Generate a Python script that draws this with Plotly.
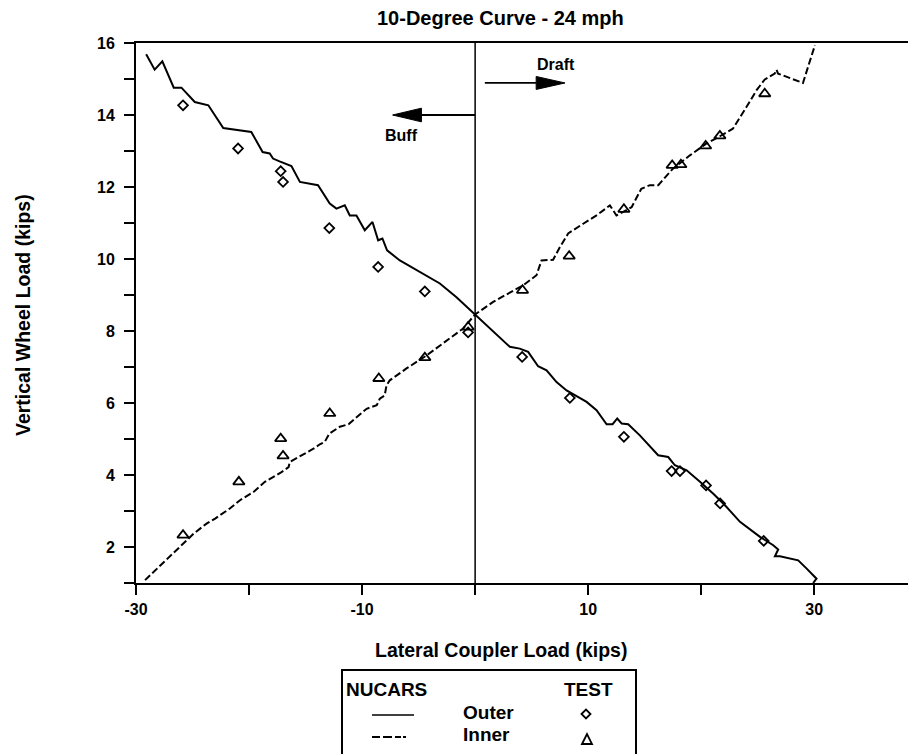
import plotly.graph_objects as go

# ---------------- data ----------------
outer_nucars_x = [-29.1, -28.35, -27.67, -26.66, -25.98, -24.8, -23.6, -22.28, -19.8, -18.8,
                  -18.17, -17.88, -17.3, -16.25, -15.5, -13.9, -12.86, -12.27, -11.53, -11.09,
                  -10.5, -9.76, -9.08, -8.58, -8.2, -7.79, -6.66, -4.89, -3.12, -1.65,
                  0.0, 1.6, 3.07, 3.95, 4.69, 5.57, 6.32, 7.2, 8.09, 9.86,
                  10.74, 11.63, 12.16, 12.57, 12.96, 13.54, 14.57, 16.19, 17.08, 17.67,
                  18.71, 19.89, 21.07, 22.1, 23.43, 25.2, 26.37, 26.81, 26.52, 26.96,
                  28.58, 29.33, 30.2, 29.9]
outer_nucars_y = [15.69, 15.26, 15.49, 14.76, 14.76, 14.36, 14.27, 13.64, 13.53, 12.97,
                  12.93, 12.79, 12.71, 12.58, 12.14, 12.05, 11.54, 11.40, 11.49, 11.21,
                  11.21, 10.80, 11.03, 10.52, 10.57, 10.24, 9.96, 9.64, 9.32, 8.94,
                  8.46, 7.97, 7.56, 7.51, 7.42, 7.02, 6.91, 6.58, 6.35, 6.03,
                  5.80, 5.41, 5.41, 5.57, 5.43, 5.41, 5.10, 4.55, 4.50, 4.27,
                  4.13, 3.81, 3.48, 3.16, 2.70, 2.28, 2.05, 1.93, 1.74, 1.74,
                  1.63, 1.40, 1.12, 1.0]

inner_nucars_x = [-29.2, -28.3, -27.3, -26.1, -24.9, -23.76, -23.0, -21.7, -20.8, -19.6,
                  -18.6, -17.13, -16.5, -16.4, -14.3, -13.7, -13.3, -12.9, -11.97, -11.2,
                  -10.5, -9.6, -8.7, -8.43, -8.0, -7.84, -7.55, -6.07, -4.3, -2.5,
                  -1.06, 0.0, 1.6, 4.25, 5.43, 5.87, 6.9, 7.5, 8.23, 9.56,
                  10.74, 11.92, 12.5, 13.1, 13.84, 14.7, 15.46, 16.2, 17.5, 19.0,
                  20.47, 21.65, 22.8, 24.0, 24.9, 25.6, 26.5, 26.66, 26.8, 29.0,
                  29.6, 30.06]
inner_nucars_y = [1.08, 1.35, 1.63, 2.0, 2.37, 2.65, 2.79, 3.07, 3.30, 3.53,
                  3.81, 4.08, 4.22, 4.36, 4.73, 4.86, 4.92, 5.15, 5.34, 5.41,
                  5.61, 5.84, 5.94, 6.12, 6.21, 6.49, 6.63, 6.96, 7.32, 7.74,
                  8.07, 8.46, 8.81, 9.27, 9.55, 9.96, 9.98, 10.33, 10.71, 10.98,
                  11.21, 11.49, 11.21, 11.31, 11.44, 11.95, 12.05, 12.05, 12.51, 12.88,
                  13.21, 13.41, 13.62, 14.22, 14.69, 14.98, 15.15, 15.26, 15.15, 14.89,
                  15.47, 15.94]

test_outer_x = [-25.84, -20.97, -17.2, -16.99, -12.9, -8.58, -4.45, -0.62,
                4.16, 8.38, 13.16, 17.38, 18.12, 20.43, 21.67, 25.53]
test_outer_y = [14.27, 13.07, 12.44, 12.14, 10.86, 9.78, 9.10, 7.96,
                7.28, 6.14, 5.06, 4.11, 4.11, 3.71, 3.21, 2.17]

test_inner_x = [-25.84, -20.9, -17.2, -16.99, -12.86, -8.52, -4.45, -0.62,
                4.19, 8.32, 13.16, 17.43, 18.2, 20.39, 21.65, 25.62]
test_inner_y = [2.33, 3.81, 5.01, 4.53, 5.71, 6.68, 7.26, 8.11,
                9.13, 10.08, 11.38, 12.6, 12.62, 13.14, 13.42, 14.59]

title_text = "10-Degree Curve - 24 mph"
x_title = "Lateral Coupler Load (kips)"
y_title = "Vertical Wheel Load (kips)"
x_tickvals = [-30, -10, 10, 30]
x_ticktext = ["-30", "-10", "10", "30"]

# ---------------- layout helpers ----------------
# The page body has an 8px margin, so the figure is offset by 8px on screen.
OFF = 8
SCREEN_W, SCREEN_H = 916, 754
W, H = SCREEN_W - OFF, SCREEN_H - OFF
FONT = "Liberation Sans, Arial, sans-serif"
DASH = "7px,3px"


def px(x):
    """screen pixel x -> paper coordinate"""
    return (x - OFF) / W


def py(y):
    """screen pixel y -> paper coordinate"""
    return 1 - (y - OFF) / H


fig = go.Figure()

fig.add_trace(go.Scatter(x=outer_nucars_x, y=outer_nucars_y, mode="lines",
                         line=dict(color="black", width=2), hoverinfo="skip"))
fig.add_trace(go.Scatter(x=inner_nucars_x, y=inner_nucars_y, mode="lines",
                         line=dict(color="black", width=2, dash=DASH), hoverinfo="skip"))
fig.add_trace(go.Scatter(x=test_outer_x, y=test_outer_y, mode="markers",
                         marker=dict(symbol="diamond-open", size=7.5, color="black",
                                     line=dict(width=1.8, color="black"))))
fig.add_trace(go.Scatter(x=test_inner_x, y=test_inner_y, mode="markers",
                         marker=dict(symbol="triangle-up-open", size=10, color="black",
                                     line=dict(width=1.8, color="black"))))

shapes = []
# vertical reference line at zero coupler load
shapes.append(dict(type="line", xref="x", yref="y", x0=0, x1=0, y0=1, y1=16,
                   line=dict(color="black", width=1.5)))
# Buff arrow
BUFF_Y, BUFF_BASE, BUFF_TIP, HEAD_H = 14.0, -4.75, -7.3, 0.19
shapes.append(dict(type="line", xref="x", yref="y", x0=0, x1=BUFF_BASE, y0=BUFF_Y, y1=BUFF_Y,
                   line=dict(color="black", width=1.8)))
shapes.append(dict(type="path", xref="x", yref="y",
                   path=f"M {BUFF_BASE},{BUFF_Y + HEAD_H} L {BUFF_TIP},{BUFF_Y} L {BUFF_BASE},{BUFF_Y - HEAD_H} Z",
                   fillcolor="black", line=dict(color="black", width=1)))
# Draft arrow
DR_Y, DR_START, DR_BASE, DR_TIP, DR_H = 14.89, 0.86, 5.4, 7.95, 0.18
shapes.append(dict(type="line", xref="x", yref="y", x0=DR_START, x1=DR_BASE, y0=DR_Y, y1=DR_Y,
                   line=dict(color="black", width=1.8)))
shapes.append(dict(type="path", xref="x", yref="y",
                   path=f"M {DR_BASE},{DR_Y + DR_H} L {DR_TIP},{DR_Y} L {DR_BASE},{DR_Y - DR_H} Z",
                   fillcolor="black", line=dict(color="black", width=1)))

# legend box (drawn in screen pixels converted to paper coords)
shapes.append(dict(type="rect", xref="paper", yref="paper",
                   x0=px(342), x1=px(636), y0=py(670), y1=py(770),
                   line=dict(color="black", width=2)))
shapes.append(dict(type="line", xref="paper", yref="paper",
                   x0=px(372), x1=px(414), y0=py(715), y1=py(715),
                   line=dict(color="black", width=1.5)))
shapes.append(dict(type="line", xref="paper", yref="paper",
                   x0=px(372), x1=px(414), y0=py(737), y1=py(737),
                   line=dict(color="black", width=1.8, dash="8px,3px,9px,3px,6px,2px,3px")))
# legend symbols
dcx, dcy, dr = 586, 714, 4.5
shapes.append(dict(type="path", xref="paper", yref="paper",
                   path=(f"M {px(dcx - dr)},{py(dcy)} L {px(dcx)},{py(dcy - dr)} "
                         f"L {px(dcx + dr)},{py(dcy)} L {px(dcx)},{py(dcy + dr)} Z"),
                   line=dict(color="black", width=1.8)))
tcx, tcy, tw, th = 587, 739, 5, 5
shapes.append(dict(type="path", xref="paper", yref="paper",
                   path=(f"M {px(tcx - tw)},{py(tcy + th)} L {px(tcx)},{py(tcy - th)} "
                         f"L {px(tcx + tw)},{py(tcy + th)} Z"),
                   line=dict(color="black", width=1.8)))

ann = []


def txt(text, x, y, size, xanchor="center", angle=0):
    ann.append(dict(text=text, x=px(x), y=py(y), xref="paper", yref="paper",
                    showarrow=False, xanchor=xanchor, yanchor="middle", textangle=angle,
                    font=dict(family=FONT, size=size, color="black")))


txt(f"<b>{title_text}</b>", 501, 18, 20)
txt(f"<b>{x_title}</b>", 501, 650, 19.5)
txt(f"<b>{y_title}</b>", 23, 315, 19.5, angle=-90)
txt("<b>Buff</b>", 401, 135, 16)
txt("<b>Draft</b>", 556, 65, 16)
txt("<b>NUCARS</b>", 344, 689, 19, xanchor="left")
txt("<b>TEST</b>", 588, 689, 19)
txt("<b>Outer</b>", 461, 712, 19, xanchor="left")
txt("<b>Inner</b>", 461, 734, 19, xanchor="left")

tickfont = dict(family=FONT, size=16, color="black", weight="bold")
fig.update_layout(
    template="none",
    width=W, height=H, autosize=False,
    margin=dict(l=0, r=0, t=0, b=0, pad=0, autoexpand=False),
    paper_bgcolor="white", plot_bgcolor="white",
    showlegend=False,
    shapes=shapes, annotations=ann,
    xaxis=dict(domain=[px(136), 1.0], range=[-30, 39], showgrid=False, zeroline=False,
               automargin=False,
               showline=True, linecolor="black", linewidth=2, mirror=True,
               tickmode="array", tickvals=x_tickvals, ticktext=x_ticktext,
               ticks="outside", ticklen=10, tickwidth=2, tickcolor="black",
               ticklabelstandoff=1, tickfont=tickfont,
               minor=dict(dtick=10, tick0=-30, ticks="outside", ticklen=10,
                          tickwidth=2, tickcolor="black", showgrid=False)),
    yaxis=dict(domain=[py(583), py(43)], range=[1, 16], showgrid=False, zeroline=False,
               automargin=False,
               showline=True, linecolor="black", linewidth=2, mirror=False,
               tick0=0, dtick=2, ticks="outside", ticklen=10, tickwidth=2, tickcolor="black",
               ticklabelstandoff=6, tickfont=tickfont,
               minor=dict(dtick=1, tick0=0, ticks="outside", ticklen=10,
                          tickwidth=2, tickcolor="black", showgrid=False)),
)

fig.write_html("out.html")
